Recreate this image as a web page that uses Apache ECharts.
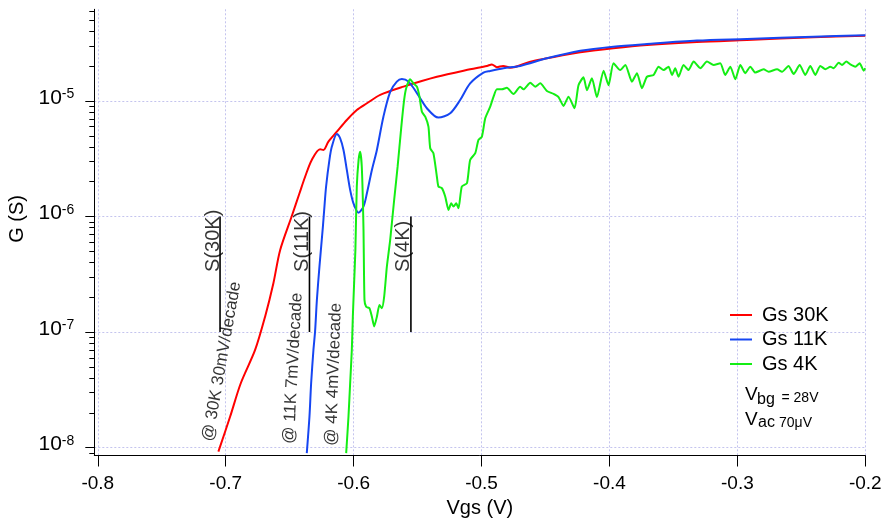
<!DOCTYPE html>
<html><head><meta charset="utf-8">
<script src="https://cdn.jsdelivr.net/npm/echarts@6/dist/echarts.min.js"></script>
<style>html,body{margin:0;padding:0;background:#fff}#c{width:885px;height:527px}</style>
</head><body><div id="c"></div>
<script>
const FONT = '"Liberation Sans", Arial, Helvetica, sans-serif';

// ---- axes / ticks ----
const xTicks = [-0.8, -0.7, -0.6, -0.5, -0.4, -0.3, -0.2];
const xMin = -0.8027, xMax = -0.2;
const yDecades = [1e-9, 1e-8, 1e-7, 1e-6, 1e-5];
const yMinorMultipliers = [2, 3, 4, 5, 6, 7, 8, 9];
const yMin = 8.56e-9, yMax = 6.21e-5;

// ---- Gs 30K ----
const v30 = [-0.7057, -0.6965, -0.6882, -0.6770, -0.6692, -0.6627, -0.6574, -0.6483, -0.6423, -0.6379, -0.6327, -0.6262, -0.6236, -0.6197, -0.6131, -0.6053, -0.5975, -0.5896, -0.5792, -0.5610, -0.5349, -0.5089, -0.4958, -0.4919, -0.4880, -0.4831, -0.4776, -0.4619, -0.4489, -0.4228, -0.3970, -0.3707, -0.3316, -0.2925, -0.2406, -0.2000];
const g30 = [9.25e-9, 1.86e-8, 3.61e-8, 7.01e-8, 1.36e-7, 2.65e-7, 5.14e-7, 1.01e-6, 1.59e-6, 2.21e-6, 3.09e-6, 3.82e-6, 3.77e-6, 4.45e-6, 5.42e-6, 6.85e-6, 8.36e-6, 9.55e-6, 1.13e-5, 1.33e-5, 1.62e-5, 1.88e-5, 2.01e-5, 2.07e-5, 1.96e-5, 2.01e-5, 1.94e-5, 2.19e-5, 2.34e-5, 2.64e-5, 2.86e-5, 3.05e-5, 3.24e-5, 3.37e-5, 3.56e-5, 3.67e-5];

// ---- Gs 11K ----
const v11 = [-0.6366, -0.6345, -0.6332, -0.6314, -0.6301, -0.6287, -0.6267, -0.6240, -0.6230, -0.6215, -0.6189, -0.6170, -0.6131, -0.6105, -0.6079, -0.6053, -0.6027, -0.6001, -0.5962, -0.5923, -0.5896, -0.5857, -0.5818, -0.5767, -0.5714, -0.5662, -0.5623, -0.5571, -0.5505, -0.5427, -0.5337, -0.5245, -0.5167, -0.5089, -0.4985, -0.4932, -0.4828, -0.4698, -0.4489, -0.4228, -0.3970, -0.3707, -0.3316, -0.2925, -0.2406, -0.2000];
const g11 = [8.97e-9, 1.86e-8, 3.61e-8, 7.01e-8, 1.02e-7, 1.90e-7, 3.69e-7, 8.18e-7, 1.14e-6, 1.82e-6, 3.09e-6, 4.03e-6, 5.19e-6, 4.75e-6, 3.77e-6, 2.53e-6, 1.70e-6, 1.30e-6, 1.08e-6, 1.22e-6, 1.59e-6, 2.53e-6, 3.77e-6, 7.31e-6, 1.20e-5, 1.47e-5, 1.55e-5, 1.47e-5, 1.17e-5, 8.65e-6, 7.18e-6, 7.83e-6, 1.02e-5, 1.42e-5, 1.76e-5, 1.82e-5, 1.92e-5, 2.01e-5, 2.34e-5, 2.72e-5, 2.95e-5, 3.11e-5, 3.33e-5, 3.44e-5, 3.60e-5, 3.70e-5];

// ---- Gs 4K ----
const v4 = [-0.6058, -0.6040, -0.6027, -0.6014, -0.6006, -0.5996, -0.5986, -0.5975, -0.5961, -0.5949, -0.5936, -0.5923, -0.5915, -0.5902, -0.5876, -0.5857, -0.5839, -0.5818, -0.5798, -0.5779, -0.5761, -0.5740, -0.5714, -0.5683, -0.5656, -0.5628, -0.5605, -0.5589, -0.5558, -0.5532, -0.5505, -0.5485, -0.5466, -0.5440, -0.5415, -0.5401, -0.5376, -0.5349, -0.5337, -0.5310, -0.5284, -0.5258, -0.5237, -0.5219, -0.5198, -0.5180, -0.5154, -0.5114, -0.5089, -0.5049, -0.5024, -0.4997, -0.4971, -0.4932, -0.4906, -0.4880, -0.4841, -0.4802, -0.4750, -0.4698, -0.4672, -0.4619, -0.4580, -0.4541, -0.4489, -0.4437, -0.4398, -0.4359, -0.4320, -0.4273, -0.4242, -0.4203, -0.4176, -0.4137, -0.4098, -0.4046, -0.4007, -0.3968, -0.3916, -0.3876, -0.3824, -0.3785, -0.3746, -0.3707, -0.3655, -0.3616, -0.3577, -0.3538, -0.3511, -0.3486, -0.3460, -0.3421, -0.3382, -0.3342, -0.3290, -0.3238, -0.3186, -0.3134, -0.3095, -0.3055, -0.3016, -0.2977, -0.2938, -0.2899, -0.2860, -0.2795, -0.2756, -0.2690, -0.2651, -0.2600, -0.2560, -0.2513, -0.2469, -0.2430, -0.2391, -0.2352, -0.2312, -0.2273, -0.2248, -0.2208, -0.2182, -0.2148, -0.2117, -0.2078, -0.2044, -0.2013, -0.2000];
const g4 = [8.97e-9, 1.86e-8, 3.61e-8, 7.01e-8, 1.36e-7, 2.65e-7, 5.14e-7, 1.82e-6, 3.09e-6, 3.64e-6, 2.70e-6, 8.18e-7, 1.90e-7, 1.66e-7, 1.61e-7, 1.36e-7, 1.12e-7, 1.36e-7, 1.72e-7, 1.61e-7, 2.03e-7, 3.69e-7, 6.28e-7, 1.39e-6, 2.70e-6, 5.83e-6, 1.02e-5, 1.29e-5, 1.54e-5, 1.42e-5, 1.33e-5, 1.09e-5, 8.07e-6, 7.31e-6, 6.00e-6, 3.90e-6, 3.53e-6, 2.21e-6, 1.82e-6, 1.76e-6, 1.49e-6, 1.14e-6, 1.30e-6, 1.22e-6, 1.30e-6, 1.18e-6, 1.82e-6, 1.94e-6, 3.09e-6, 3.53e-6, 4.60e-6, 4.91e-6, 7.08e-6, 8.93e-6, 1.09e-5, 1.26e-5, 1.26e-5, 1.30e-5, 1.15e-5, 1.33e-5, 1.26e-5, 1.44e-5, 1.33e-5, 1.42e-5, 1.22e-5, 1.15e-5, 1.08e-5, 9.06e-6, 1.09e-5, 8.65e-6, 1.37e-5, 1.60e-5, 1.24e-5, 1.57e-5, 1.08e-5, 1.83e-5, 1.37e-5, 2.12e-5, 1.85e-5, 2.05e-5, 1.47e-5, 1.74e-5, 1.29e-5, 1.62e-5, 1.68e-5, 1.98e-5, 1.85e-5, 1.98e-5, 1.68e-5, 1.92e-5, 1.62e-5, 2.05e-5, 1.85e-5, 2.19e-5, 1.92e-5, 2.19e-5, 2.05e-5, 2.12e-5, 1.68e-5, 1.98e-5, 1.54e-5, 2.05e-5, 1.74e-5, 1.98e-5, 1.76e-5, 1.88e-5, 1.79e-5, 1.88e-5, 1.79e-5, 2.01e-5, 1.71e-5, 2.05e-5, 1.68e-5, 2.01e-5, 1.68e-5, 2.01e-5, 1.88e-5, 1.98e-5, 1.92e-5, 2.14e-5, 2.05e-5, 2.19e-5, 2.07e-5, 1.98e-5, 2.12e-5, 1.83e-5, 1.92e-5];

// ---- subthreshold slope annotations ----
const slopeNames = ['S(30K)', 'S(11K)', 'S(4K)'];
const slopeLineV = [-0.7044, -0.6345, -0.5552];
const slopeSpan = [1e-7, 1e-6];
const slopeLabelOffsetV = 0.002;
const slopeLabelG = 3.32e-7;
const slopeNotes = ['@ 30K 30mV/decade', '@ 11K 7mV/decade', '@ 4K 4mV/decade'];
const noteV = [-0.7067, -0.6430, -0.6101];
const noteG = [1.10e-8, 1.07e-8, 1.03e-8];
const noteAngle = [80, 87, 88];

// ---- legend / conditions ----
const seriesNames = ['Gs 30K', 'Gs 11K', 'Gs 4K'];
const seriesColors = ['#ff0000', '#1646f2', '#14ee14'];

const pairs = (vs, gs) => vs.map((v, i) => [v, gs[i]]);
const lg = v => Math.log10(v);
const lMin = lg(yMin), lMax = lg(yMax);
const majorL = yDecades.map(d => Math.round(lg(d))).filter(l => l >= lMin && l <= lMax);
const minorL = [];
yDecades.forEach(d => yMinorMultipliers.forEach(m => { const l = lg(d * m); if (l >= lMin && l <= lMax) minorL.push(l); }));

const chart = echarts.init(document.getElementById('c'));
const lineSeries = [[v30, g30], [v11, g11], [v4, g4]].map((p, i) => ({
  name: seriesNames[i], type: 'line', xAxisIndex: 0, yAxisIndex: 0,
  data: pairs(p[0], p[1]), symbol: 'none', smooth: i === 2 ? 0.2 : 0.3,
  lineStyle: { color: seriesColors[i], width: 2 }, itemStyle: { color: seriesColors[i] },
  z: 3 + i, silent: true
}));
const barSeries = slopeLineV.map(v => ({
  type: 'line', xAxisIndex: 0, yAxisIndex: 0, data: [[v, slopeSpan[0]], [v, slopeSpan[1]]],
  symbol: 'none', lineStyle: { color: '#000', width: 1.6 }, z: 6, silent: true
}));
const annData = [];
slopeNames.forEach((t, i) => annData.push({ value: [slopeLineV[i] + slopeLabelOffsetV, slopeLabelG], label: { formatter: t, rotate: 90, fontSize: 20 } }));
slopeNotes.forEach((t, i) => annData.push({ value: [noteV[i], noteG[i]], label: { formatter: t, rotate: noteAngle[i], fontSize: 17 } }));

const option = {
  animation: false,
  backgroundColor: '#fff',
  textStyle: { fontFamily: FONT },
  grid: { left: 94.3, right: 19.7, top: 9.3, bottom: 71.5, containLabel: false, outerBoundsMode: 'none' },
  legend: {
    data: seriesNames, orient: 'vertical', left: 730, top: 305, padding: 0,
    icon: 'rect', itemWidth: 22, itemHeight: 2, itemGap: 4.5, selectedMode: false,
    textStyle: { fontSize: 20, fontFamily: FONT, color: '#000', lineHeight: 20, padding: [0, 0, 0, 5] }
  },
  xAxis: {
    type: 'value', min: xMin, max: xMax, position: 'bottom',
    name: 'Vgs (V)', nameLocation: 'middle', nameGap: 42.5,
    nameTextStyle: { fontSize: 20, fontFamily: FONT, color: '#000' },
    axisLine: { show: true, onZero: false, lineStyle: { color: '#000', width: 1 } },
    axisTick: { show: true, inside: false, length: 11, customValues: xTicks, lineStyle: { color: '#000', width: 1 } },
    axisLabel: { customValues: xTicks, formatter: v => v.toFixed(1), fontSize: 19, fontFamily: FONT, color: '#000', margin: 19 },
    splitLine: { show: true, lineStyle: { color: '#c4c4ee', width: 1, type: [2, 2] } }
  },
  yAxis: [
    { type: 'log', logBase: 10, min: yMin, max: yMax, show: false },
    {
      type: 'value', min: lMin, max: lMax, position: 'left',
      name: 'G (S)', nameLocation: 'middle', nameGap: 62, nameRotate: 90,
      nameTextStyle: { fontSize: 20, fontFamily: FONT, color: '#000', padding: [0, 0, 0, 27] },
      axisLine: { show: true, lineStyle: { color: '#000', width: 1 } },
      axisTick: { show: true, inside: false, length: 9, customValues: majorL, lineStyle: { color: '#000', width: 1 } },
      axisLabel: {
        customValues: majorL, margin: 20, padding: [0, 0, 6, 0],
        formatter: v => '{b|10}{s|' + Math.round(v) + '}',
        rich: {
          b: { fontSize: 21, fontFamily: FONT, color: '#000', lineHeight: 21 },
          s: { fontSize: 14, fontFamily: FONT, color: '#000', lineHeight: 14, verticalAlign: 'top' }
        }
      },
      splitLine: { show: true, lineStyle: { color: '#c4c4ee', width: 1, type: [2, 2] } }
    },
    {
      type: 'value', min: lMin, max: lMax, position: 'left',
      axisLine: { show: false },
      axisTick: { show: true, inside: false, length: 5, customValues: minorL, lineStyle: { color: '#000', width: 1 } },
      axisLabel: { show: false }, splitLine: { show: false }
    }
  ],
  series: [
    ...lineSeries, ...barSeries,
    {
      type: 'scatter', xAxisIndex: 0, yAxisIndex: 0, symbolSize: 1, silent: true, z: 7,
      itemStyle: { color: 'rgba(0,0,0,0)' },
      label: { show: true, position: 'right', distance: 0, align: 'left', verticalAlign: 'bottom', color: '#000', fontFamily: FONT, lineHeight: 20 },
      data: annData
    }
  ],
  graphic: [
    { type: 'text', x: 745, y: 395.1, style: { text: 'V', font: '19px ' + FONT, fill: '#000', align: 'left', verticalAlign: 'middle' } },
    { type: 'text', x: 757, y: 399.5, style: { text: 'bg', font: '16px ' + FONT, fill: '#000', align: 'left', verticalAlign: 'middle' } },
    { type: 'text', x: 781.5, y: 398.5, style: { text: '= 28V', font: '14px ' + FONT, fill: '#000', align: 'left', verticalAlign: 'middle' } },
    { type: 'text', x: 745, y: 420.1, style: { text: 'V', font: '19px ' + FONT, fill: '#000', align: 'left', verticalAlign: 'middle' } },
    { type: 'text', x: 758, y: 422.8, style: { text: 'ac', font: '16px ' + FONT, fill: '#000', align: 'left', verticalAlign: 'middle' } },
    { type: 'text', x: 779, y: 423.2, style: { text: '70\u03bcV', font: '14px ' + FONT, fill: '#000', align: 'left', verticalAlign: 'middle' } }
  ]
};
chart.setOption(option);
</script>
</body></html>
